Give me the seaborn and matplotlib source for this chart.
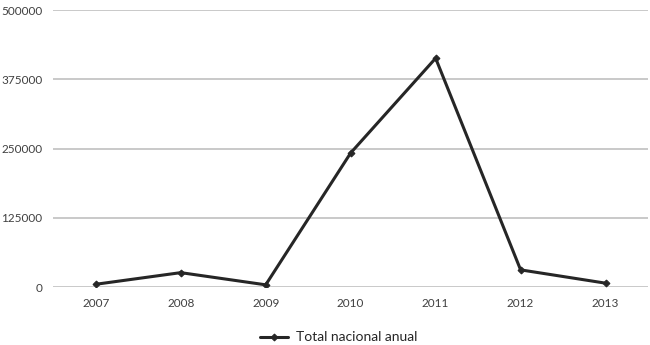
import matplotlib
matplotlib.use("Agg")
import matplotlib.pyplot as plt
import seaborn as sns
import pandas as pd

# Annual national totals
years = ["2007", "2008", "2009", "2010", "2011", "2012", "2013"]
totals = [5000, 26000, 4000, 242000, 413000, 31000, 7000]
yticks = [0, 125000, 250000, 375000, 500000]

df = pd.DataFrame({"year": years, "total": totals})

sns.set_style("white")
plt.rcParams["font.family"] = ["Lato", "DejaVu Sans"]

fig = plt.figure(figsize=(6.5, 3.45), dpi=100)
ax = fig.add_axes([0.082, 0.168, 0.915, 0.803])

sns.lineplot(data=df, x="year", y="total", ax=ax, color="#262626",
             linewidth=2.2, marker="D", markersize=3.5,
             markeredgecolor="#262626", label="Total nacional anual",
             sort=False)

ax.set_xlim(-0.5, len(years) - 0.5)
ax.set_ylim(0, 500000)
ax.set_yticks(yticks)
ax.set_yticklabels([str(v) for v in yticks])
ax.yaxis.grid(True, color="#c0c0c0", linewidth=1.2)
ax.set_axisbelow(True)
for s in ax.spines.values():
    s.set_visible(False)
ax.tick_params(axis="both", length=0, labelsize=8.5, labelcolor="#404040")
ax.tick_params(axis="y", pad=8)
ax.tick_params(axis="x", pad=8)
ax.set_xlabel("")
ax.set_ylabel("")

ax.legend(loc="upper center", bbox_to_anchor=(0.48, -0.115), frameon=False,
          fontsize=10, handlelength=2.0, handletextpad=0.6,
          labelcolor="#262626")

fig.savefig("out.png", dpi=100)
